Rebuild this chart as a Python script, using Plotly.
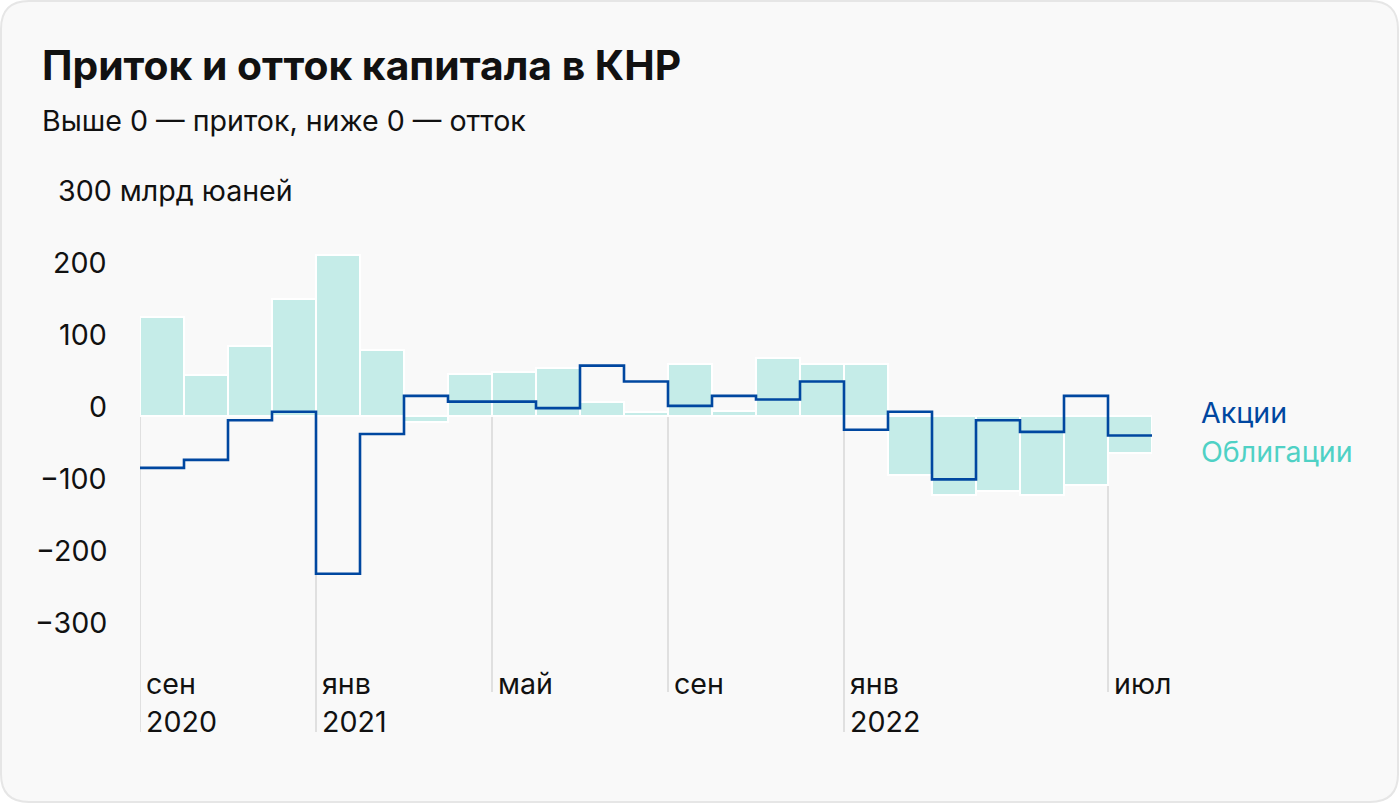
import plotly.graph_objects as go

# ---- data ----
months = ["сен 2020", "окт 2020", "ноя 2020", "дек 2020", "янв 2021", "фев 2021", "мар 2021",
          "апр 2021", "май 2021", "июн 2021", "июл 2021", "авг 2021", "сен 2021", "окт 2021",
          "ноя 2021", "дек 2021", "янв 2022", "фев 2022", "мар 2022", "апр 2022", "май 2022",
          "июн 2022", "июл 2022"]
bonds = [138, 57, 97, 163, 224, 91, -9, 58, 61, 66, 19, 5, 72, 7, 80, 72, 72,
         -82, -110, -104, -110, -96, -51]
stocks = [-72, -61, -6, 6, -219, -25, 28, 20, 20, 11, 70, 48, 14, 28, 23, 48, -19,
          6, -88, -6, -22, 28, -27]
tick_vals = [300, 200, 100, 0, -100, -200, -300]
month_ticks = [(0, "сен", "2020"), (4, "янв", "2021"), (8, "май", ""), (12, "сен", ""),
               (16, "янв", "2022"), (22, "июл", "")]

# ---- geometry ----
W, H = 1400, 804
L, R, T, B = 140, 248, 150, 72
PW = W - L - R
PH = H - T - B
ZERO_PX = 416
SCALE = 0.72  # px per unit
y_top = (ZERO_PX - T) / SCALE
y_bot = -((H - B) - ZERO_PX) / SCALE


def px(x):
    return (x - L) / PW


def py(y):
    return ((H - B) - y) / PH


def val(ypix):
    return (ZERO_PX - ypix) / SCALE


FONT = "Inter"
FS = 28.6
TXT = "#111111"
n = len(months)
xc = [i + 0.5 for i in range(n)]

fig = go.Figure()
fig.add_trace(go.Bar(
    x=xc, y=bonds, width=1, marker=dict(color="#C5ECE8", line=dict(color="white", width=2)),
    hoverinfo="skip", showlegend=False))
fig.add_trace(go.Scatter(
    x=list(range(n)) + [n], y=stocks + [stocks[-1]], mode="lines", line_shape="hv",
    line=dict(color="#0047A0", width=2.6), hoverinfo="skip", showlegend=False))

shapes = []
# card background with rounded corners
x0, y0, x1, y1, r = 1, 1, 1398, 802, 28
path = (f"M {px(x0 + r)} {py(y0)} L {px(x1 - r)} {py(y0)} Q {px(x1)} {py(y0)} {px(x1)} {py(y0 + r)} "
        f"L {px(x1)} {py(y1 - r)} Q {px(x1)} {py(y1)} {px(x1 - r)} {py(y1)} "
        f"L {px(x0 + r)} {py(y1)} Q {px(x0)} {py(y1)} {px(x0)} {py(y1 - r)} "
        f"L {px(x0)} {py(y0 + r)} Q {px(x0)} {py(y0)} {px(x0 + r)} {py(y0)} Z")
shapes.append(dict(type="path", path=path, xref="paper", yref="paper", layer="below",
                   fillcolor="#F9F9F9", line=dict(color="#E6E6E6", width=2)))

annotations = []
for idx, m, yr in month_ticks:
    end = 732 if yr else 692
    shapes.append(dict(type="line", xref="x", yref="y", x0=idx, x1=idx, y0=0, y1=val(end),
                       layer="below", line=dict(color="#E0E0E0", width=2)))
    annotations.append(dict(x=idx, y=val(683), xref="x", yref="y", text=m, showarrow=False,
                            xanchor="left", yanchor="middle", xshift=4,
                            font=dict(family=FONT, size=FS, color=TXT)))
    if yr:
        annotations.append(dict(x=idx, y=val(721), xref="x", yref="y", text=yr, showarrow=False,
                                xanchor="left", yanchor="middle", xshift=4,
                                font=dict(family=FONT, size=FS, color=TXT)))

for v in tick_vals:
    if v == 300:
        annotations.append(dict(x=px(56), y=v, xref="paper", yref="y", text="300 млрд юаней",
                                showarrow=False, xanchor="left", yanchor="middle", yshift=10,
                                font=dict(family=FONT, size=FS, color=TXT)))
    else:
        t = str(v) if v >= 0 else "−" + str(-v)
        annotations.append(dict(x=px(109), y=v, xref="paper", yref="y", text=t,
                                showarrow=False, xanchor="right", yanchor="middle", yshift=10,
                                font=dict(family=FONT, size=FS, color=TXT)))

annotations.append(dict(x=px(40), y=py(65), xref="paper", yref="paper",
                        text="<b>Приток и отток капитала в КНР</b>", showarrow=False,
                        xanchor="left", yanchor="middle",
                        font=dict(family=FONT, size=40.8, color=TXT)))
annotations.append(dict(x=px(40), y=py(121), xref="paper", yref="paper",
                        text="Выше 0 — приток, ниже 0 — отток", showarrow=False,
                        xanchor="left", yanchor="middle",
                        font=dict(family=FONT, size=FS, color=TXT)))
annotations.append(dict(x=px(1199), y=py(412), xref="paper", yref="paper", text="Акции",
                        showarrow=False, xanchor="left", yanchor="middle",
                        font=dict(family=FONT, size=FS, color="#0047A0")))
annotations.append(dict(x=px(1199), y=py(452), xref="paper", yref="paper", text="Облигации",
                        showarrow=False, xanchor="left", yanchor="middle",
                        font=dict(family=FONT, size=FS, color="#4FD1C5")))

fig.update_layout(
    width=W, height=H, margin=dict(l=L, r=R, t=T, b=B, autoexpand=False),
    paper_bgcolor="white", plot_bgcolor="rgba(0,0,0,0)",
    xaxis=dict(range=[0, n], visible=False, fixedrange=True),
    yaxis=dict(range=[y_bot, y_top], visible=False, fixedrange=True),
    shapes=shapes, annotations=annotations, bargap=0, showlegend=False,
)
fig.write_html("out.html", config={"displayModeBar": False},
               post_script="document.body.style.margin='0';document.body.style.overflow='hidden';")
